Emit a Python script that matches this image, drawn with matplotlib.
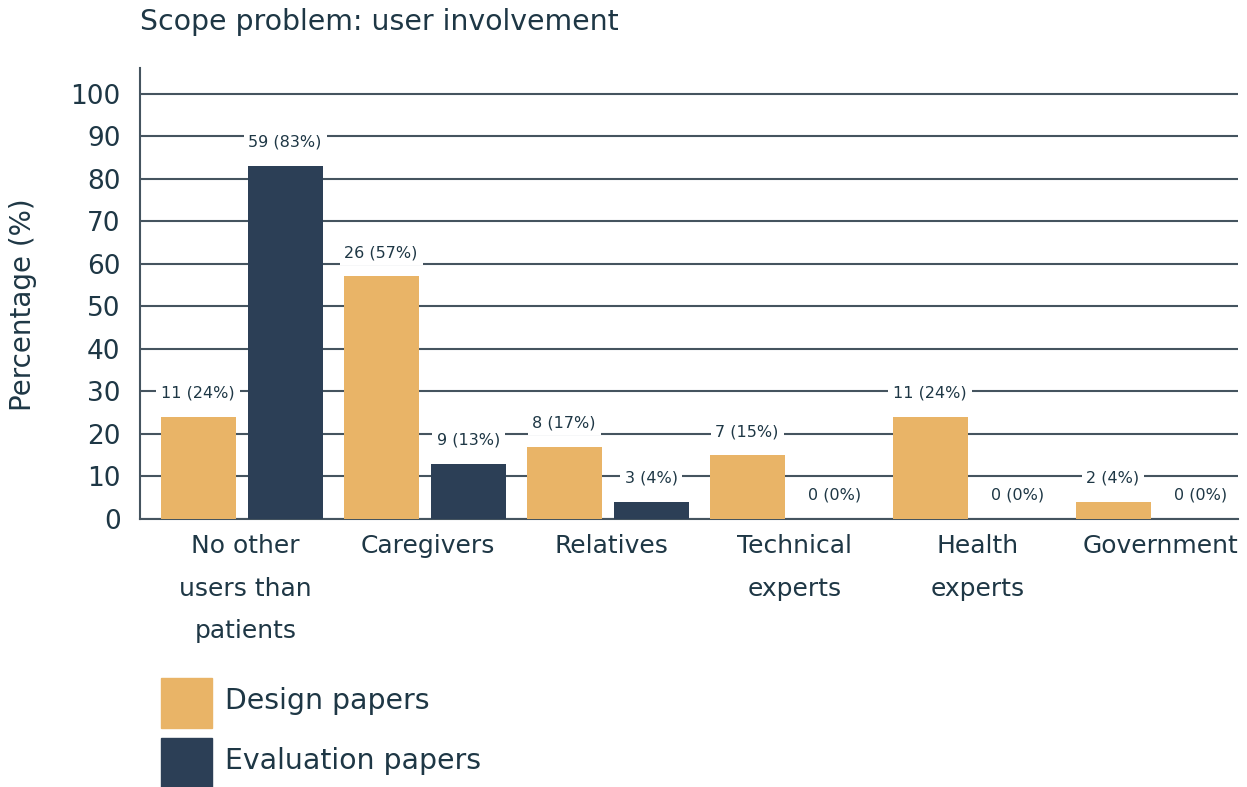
import matplotlib
matplotlib.use("Agg")
import matplotlib.pyplot as plt
import numpy as np
from matplotlib.patches import Rectangle

categories = ["No other\nusers than\npatients", "Caregivers", "Relatives",
              "Technical\nexperts", "Health\nexperts", "Government"]
design_pct = [24, 57, 17, 15, 24, 4]
design_n = [11, 26, 8, 7, 11, 2]
eval_pct = [83, 13, 4, 0, 0, 0]
eval_n = [59, 9, 3, 0, 0, 0]
series_names = ["Design papers", "Evaluation papers"]
yticks = list(range(0, 101, 10))

c_design = "#E9B467"
c_eval = "#2C3F56"
c_text = "#1E3745"
c_grid = "#45545F"

plt.rcParams['font.family'] = ['DejaVu Sans']

W, H = 1247, 787
fig = plt.figure(figsize=(W / 100, H / 100), dpi=100)
ax = fig.add_axes([0.1123, 0.3405, 0.8805, 0.5731])

x = np.arange(len(categories))
w = 0.41
off = 0.238
ax.bar(x - off, design_pct, w, color=c_design, zorder=3, label=series_names[0])
ax.bar(x + off, eval_pct, w, color=c_eval, zorder=3, label=series_names[1])

ax.set_xlim(-0.555, 5.445)
ax.set_ylim(0, 106)
ax.set_yticks(yticks)
ax.yaxis.grid(True, color=c_grid, linewidth=1.5, zorder=0)
ax.set_axisbelow(True)
for s in ["top", "right"]:
    ax.spines[s].set_visible(False)
for s in ["left", "bottom"]:
    ax.spines[s].set_color(c_grid)
    ax.spines[s].set_linewidth(1.5)
ax.tick_params(axis='y', length=0, pad=14, labelsize=19, labelcolor=c_text)
ax.tick_params(axis='x', length=0, pad=11, labelsize=18, labelcolor=c_text)
ax.set_xticks(x + 0.02)
ax.set_xticklabels(categories, linespacing=1.97, va='top')
ax.set_ylabel("Percentage (%)", fontsize=20, color=c_text)
ax.yaxis.set_label_coords(-0.094, 0.475)

def label(xs, pcts, ns):
    for xi, p, n in zip(xs, pcts, ns):
        ax.annotate(f"{n} ({p}%)", (xi, p), xytext=(0, 17), textcoords="offset points",
                    ha="center", va="center", fontsize=11.5, color=c_text, zorder=4,
                    bbox=dict(boxstyle="square,pad=0.3", fc="white", ec="none"))

label(x - off, design_pct, design_n)
label(x + off, eval_pct, eval_n)

fig.text(0.1123, 0.972, "Scope problem: user involvement", fontsize=20.4,
         color=c_text, ha="left", va="center")

# legend drawn as swatches + labels in figure coordinates
for i, (name, col) in enumerate(zip(series_names, [c_design, c_eval])):
    top = 678 + i * 60
    fig.patches.append(Rectangle((161 / W, 1 - (top + 50) / H), 51 / W, 50 / H,
                                 transform=fig.transFigure, color=col, figure=fig))
    fig.text(225 / W, 1 - (top + 23) / H, name, fontsize=20.4, color=c_text,
             ha="left", va="center")

fig.savefig("out.png", dpi=100)
